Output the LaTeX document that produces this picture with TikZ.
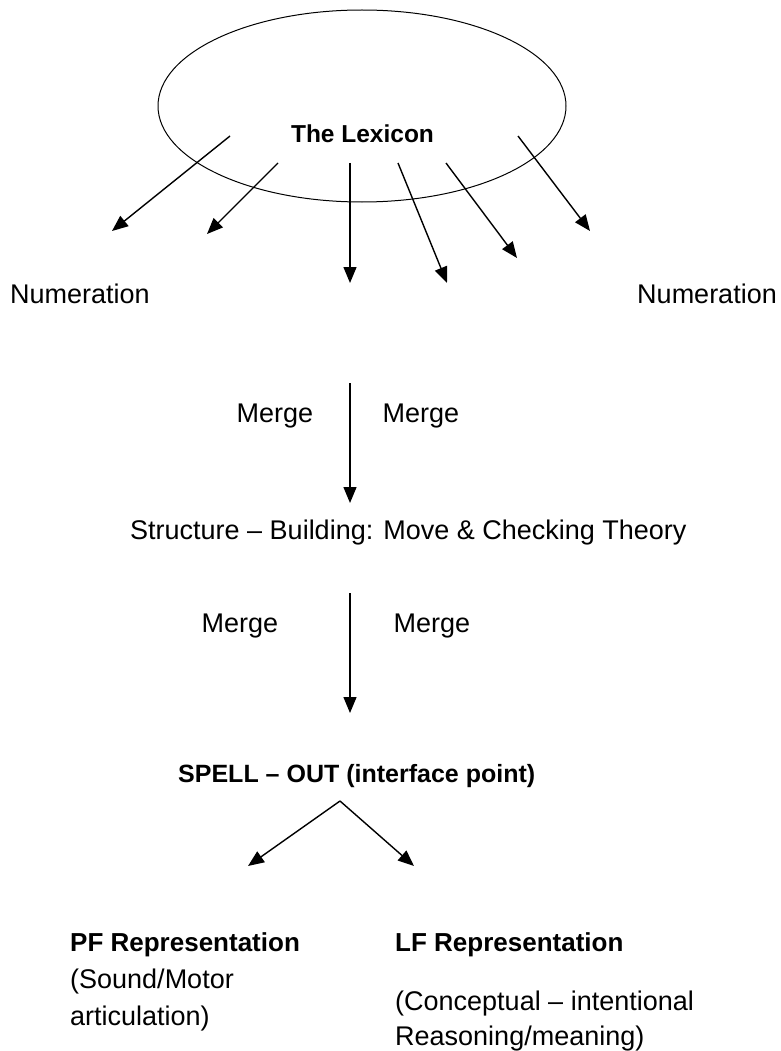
\documentclass[tikz,border=0pt]{standalone}
\usepackage{fontspec}
\setmainfont{Liberation Sans}
\usetikzlibrary{arrows.meta}
\begin{document}
\begin{tikzpicture}[x=1pt,y=-1pt,
  txt/.style={inner sep=0pt,font=\fontsize{27}{32}\selectfont},
  btxt/.style={inner sep=0pt,font=\fontsize{24.5}{30}\selectfont\bfseries},
  arr/.style={line width=1.4pt,-{Triangle[length=16pt,width=13pt]}},
  lex/.style={draw,line width=1pt}]
\useasboundingbox (0,0) rectangle (780,1051);
% lexicon
\draw[lex] (362,106) ellipse [x radius=204, y radius=96];
\node[btxt,anchor=base] (lexicon) at (362.5,143) {The Lexicon};
% numerations
\node[txt,anchor=base west] (numL) at (10,303) {Numeration};
\node[txt,anchor=base east] (numR) at (777,303) {Numeration};
% lexicon arrows
\coordinate (s1) at (230,136); \coordinate (e1) at (112,231);
\coordinate (s2) at (278,163); \coordinate (e2) at (207,234);
\coordinate (s3) at (350,163); \coordinate (e3) at (350,283);
\coordinate (s4) at (398,163); \coordinate (e4) at (447,283);
\coordinate (s5) at (446,163); \coordinate (e5) at (517,258);
\coordinate (s6) at (518,136); \coordinate (e6) at (590,231);
\foreach \i in {1,...,6} \draw[arr] (s\i) -- (e\i);
% merge 1
\coordinate (m1s) at (350,383); \coordinate (m1e) at (350,503);
\draw[arr] (m1s) -- (m1e);
\node[txt,anchor=base] (mg1) at (275,422) {Merge};
\node[txt,anchor=base] (mg2) at (421,422) {Merge};
\node[txt,anchor=base west] (struct) at (130,539) {Structure – Building: Move \& Checking Theory};
% merge 2
\coordinate (m2s) at (350,593); \coordinate (m2e) at (350,713);
\draw[arr] (m2s) -- (m2e);
\node[txt,anchor=base] (mg3) at (240,632) {Merge};
\node[txt,anchor=base] (mg4) at (432,632) {Merge};
% spell-out
\node[btxt,anchor=base west,font=\fontsize{25}{30}\selectfont\bfseries] (spell) at (178,782) {SPELL – OUT (interface point)};
\coordinate (apex) at (340,801);
\coordinate (pft) at (248,866);
\coordinate (lft) at (414,866);
\draw[arr] (apex) -- (pft);
\draw[arr] (apex) -- (lft);
% PF
\node[btxt,anchor=base west,font=\fontsize{26}{30}\selectfont\bfseries] (pf) at (70,951) {PF Representation};
\node[txt,anchor=base west] (pf1) at (70,988) {(Sound/Motor};
\node[txt,anchor=base west] (pf2) at (70,1025) {articulation)};
% LF
\node[btxt,anchor=base west,font=\fontsize{26}{30}\selectfont\bfseries] (lf) at (395,951) {LF Representation};
\node[txt,anchor=base west] (lf1) at (395,1010) {(Conceptual – intentional};
\node[txt,anchor=base west] (lf2) at (395,1045) {Reasoning/meaning)};
\end{tikzpicture}
\end{document}
